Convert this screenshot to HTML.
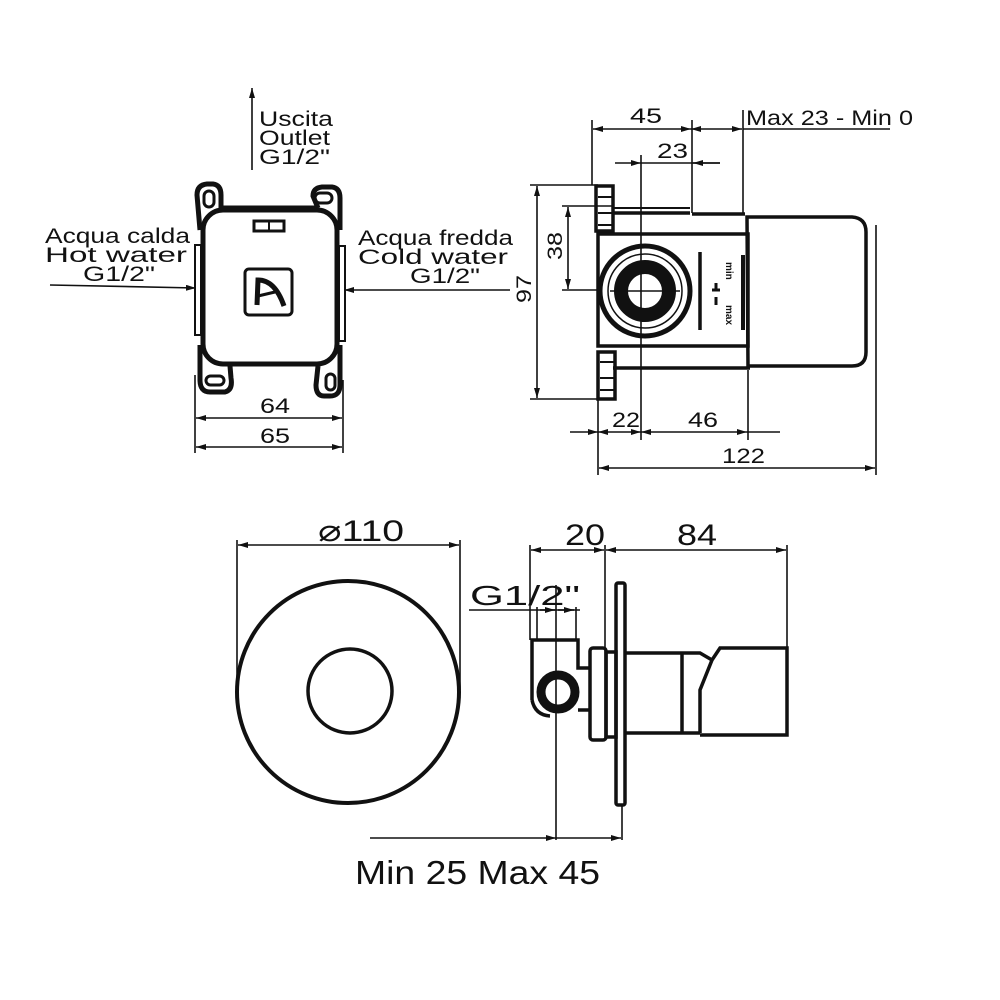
<!DOCTYPE html>
<html><head><style>html,body{margin:0;padding:0;background:#fff}svg{display:block}text{font-family:"Liberation Sans",sans-serif;fill:#111}</style></head>
<body>
<svg width="1000" height="1000" viewBox="0 0 1000 1000" xmlns="http://www.w3.org/2000/svg">
<defs>
<marker id="a" viewBox="0 0 10 6" refX="10" refY="3" markerWidth="10" markerHeight="6" orient="auto-start-reverse" markerUnits="userSpaceOnUse"><path d="M0,0L10,3L0,6z" fill="#111"/></marker>
</defs>
<g stroke="#111" fill="none" stroke-width="1.6">
<line x1="252" y1="170" x2="252" y2="88" marker-end="url(#a)"/>
<line x1="50" y1="285" x2="196" y2="288" marker-end="url(#a)"/>
<line x1="510" y1="290" x2="344" y2="290" marker-end="url(#a)"/>
<g stroke-width="5">
<rect x="203" y="210" width="134" height="154" rx="20"/>
<path d="M200,230 L197,195 Q197,185 207,184 L213,184 Q221,185 221,195 L221,208" />
<path d="M318,208 L313,196 Q313,188 322,187 L332,187 Q340,188 340,198 L340,230"/>
<path d="M200,345 L200,380 Q200,392 210,392 L225,392 Q233,390 231,378 L230,366"/>
<path d="M340,345 L340,385 Q340,396 330,396 L324,396 Q316,396 316,385 L318,366"/>
</g>
<rect x="204" y="191" width="10" height="16" rx="5" stroke-width="3"/>
<rect x="315" y="193" width="17" height="10" rx="5" stroke-width="3"/>
<rect x="206" y="376" width="18" height="9" rx="4.5" stroke-width="3"/>
<rect x="326" y="374" width="9" height="16" rx="4.5" stroke-width="3"/>
<line x1="222" y1="207" x2="316" y2="207" stroke-width="3"/>
<rect x="254" y="221" width="30" height="10" stroke-width="3"/>
<line x1="269" y1="221" x2="269" y2="231" stroke-width="2"/>
<rect x="195" y="245" width="6" height="90" stroke-width="2"/>
<rect x="339" y="246" width="6" height="95" stroke-width="2"/>
<rect x="245" y="269" width="47" height="46" rx="4" stroke-width="3"/>
<path d="M257,305 L258,280 Q275,280 284,306" stroke-width="5"/>
<line x1="258" y1="296" x2="275" y2="292" stroke-width="3"/>
<line x1="195" y1="375" x2="195" y2="453"/><line x1="343" y1="380" x2="343" y2="453"/>
<line x1="196" y1="418" x2="342" y2="418" marker-start="url(#a)" marker-end="url(#a)"/>
<line x1="196" y1="447" x2="342" y2="447" marker-start="url(#a)" marker-end="url(#a)"/>
<line x1="592" y1="120" x2="592" y2="185"/><line x1="692" y1="120" x2="692" y2="213"/><line x1="743" y1="110" x2="743" y2="215"/>
<line x1="641" y1="155" x2="641" y2="440"/>
<line x1="593" y1="129" x2="691" y2="129" marker-start="url(#a)" marker-end="url(#a)"/>
<line x1="691" y1="129" x2="742" y2="129" marker-start="url(#a)" marker-end="url(#a)"/>
<line x1="743" y1="129" x2="890" y2="129"/>
<line x1="615" y1="163" x2="641" y2="163" marker-end="url(#a)"/>
<line x1="641" y1="163" x2="720" y2="163"/>
<line x1="720" y1="163" x2="693" y2="163" marker-end="url(#a)"/>
<line x1="530" y1="185" x2="598" y2="185"/><line x1="530" y1="399" x2="598" y2="399"/>
<line x1="537" y1="186" x2="537" y2="398" marker-start="url(#a)" marker-end="url(#a)"/>
<line x1="562" y1="206" x2="612" y2="206"/><line x1="562" y1="290" x2="600" y2="290"/>
<line x1="568" y1="207" x2="568" y2="289" marker-start="url(#a)" marker-end="url(#a)"/>
<line x1="598" y1="400" x2="598" y2="475"/><line x1="748" y1="370" x2="748" y2="440"/><line x1="876" y1="225" x2="876" y2="475"/>
<line x1="570" y1="432" x2="598" y2="432" marker-end="url(#a)"/>
<line x1="598" y1="432" x2="641" y2="432" marker-start="url(#a)" marker-end="url(#a)"/>
<line x1="641" y1="432" x2="747" y2="432" marker-start="url(#a)" marker-end="url(#a)"/>
<line x1="747" y1="432" x2="780" y2="432"/>
<line x1="599" y1="468" x2="875" y2="468" marker-start="url(#a)" marker-end="url(#a)"/>
<g stroke-width="3.5">
<rect x="596" y="186" width="17" height="45"/>
<rect x="598" y="352" width="17" height="47"/>
<rect x="598" y="234" width="150" height="112"/>
<path d="M613,213 L690,213 M692,214 L745,214"/>
<path d="M613,368 L750,368"/>
<path d="M747,217 L852,217 Q866,218 866,232 L866,352 Q866,366 852,366 L748,366 Z"/>
</g>
<line x1="613" y1="208" x2="690" y2="208" stroke-width="2"/>
<path d="M598,197 H612 M598,213 H612 M598,225 H612 M600,362 H614 M600,378 H614 M600,390 H614" stroke-width="2"/>
<circle cx="645" cy="291" r="45" stroke-width="5"/>
<circle cx="645" cy="291" r="37" stroke-width="1.5"/>
<circle cx="645" cy="291" r="24" stroke-width="14"/>
<line x1="610" y1="291" x2="680" y2="291" stroke-width="1.5"/>
<line x1="700" y1="252" x2="700" y2="330" stroke-width="3.5"/>
<line x1="743" y1="255" x2="743" y2="330" stroke-width="4"/>
<path d="M716,283 L716,290 M712,290 L720,290 M716,297 L716,305" stroke-width="3"/>
<circle cx="348" cy="692" r="111" stroke-width="4"/>
<circle cx="350" cy="691" r="42" stroke-width="3.5"/>
<line x1="237" y1="540" x2="237" y2="690"/><line x1="460" y1="540" x2="460" y2="690"/>
<line x1="238" y1="545" x2="459" y2="545" marker-start="url(#a)" marker-end="url(#a)"/>
<line x1="530" y1="545" x2="530" y2="640"/><line x1="605" y1="545" x2="605" y2="650"/><line x1="787" y1="545" x2="787" y2="650"/>
<line x1="531" y1="550" x2="604" y2="550" marker-start="url(#a)" marker-end="url(#a)"/>
<line x1="606" y1="550" x2="786" y2="550" marker-start="url(#a)" marker-end="url(#a)"/>
<line x1="469" y1="610" x2="580" y2="610"/>
<line x1="537" y1="607" x2="537" y2="640"/><line x1="556" y1="585" x2="556" y2="840"/><line x1="576" y1="607" x2="576" y2="640"/>
<line x1="540" y1="610" x2="555" y2="610" marker-end="url(#a)"/><line x1="558" y1="610" x2="574" y2="610" marker-end="url(#a)"/>
<g stroke-width="3.5">
<rect x="616" y="583" width="9" height="222" rx="2"/>
<path d="M532,700 L532,640 L578,640 L578,668 L590,668"/>
<path d="M532,700 Q535,715 550,716"/>
<path d="M578,710 L590,710"/>
<rect x="590" y="648" width="16" height="92" rx="3"/>
<rect x="606" y="652" width="10" height="85"/>
<path d="M625,653 L682,653 M625,733 L700,733 M682,653 L682,733 M682,653 L700,653 L712,660 L700,690 L700,733 M712,660 L720,648 L787,648 L787,735 L700,735"/>
</g>
<circle cx="558" cy="692" r="17" stroke-width="9"/>
<line x1="622" y1="806" x2="622" y2="840"/>
<line x1="370" y1="838" x2="556" y2="838" marker-end="url(#a)"/>
<line x1="556" y1="838" x2="621" y2="838" marker-end="url(#a)"/>
</g>
<g font-size="21" lengthAdjust="spacingAndGlyphs">
<text x="259" y="126" textLength="74" lengthAdjust="spacingAndGlyphs">Uscita</text><text x="259" y="145" textLength="71" lengthAdjust="spacingAndGlyphs">Outlet</text><text x="259" y="164" textLength="71" lengthAdjust="spacingAndGlyphs">G1/2"</text>
<text x="45" y="243" textLength="145" lengthAdjust="spacingAndGlyphs">Acqua calda</text><text x="45" y="262" textLength="142" lengthAdjust="spacingAndGlyphs">Hot water</text><text x="83" y="281" textLength="72" lengthAdjust="spacingAndGlyphs">G1/2"</text>
<text x="358" y="245" textLength="155" lengthAdjust="spacingAndGlyphs">Acqua fredda</text><text x="358" y="264" textLength="150" lengthAdjust="spacingAndGlyphs">Cold water</text><text x="410" y="283" textLength="70" lengthAdjust="spacingAndGlyphs">G1/2"</text>
<text x="260" y="413" textLength="30" lengthAdjust="spacingAndGlyphs">64</text><text x="260" y="443" textLength="30" lengthAdjust="spacingAndGlyphs">65</text>
<text x="630" y="123" textLength="32" lengthAdjust="spacingAndGlyphs">45</text><text x="657" y="158" textLength="31" lengthAdjust="spacingAndGlyphs">23</text><text x="746" y="125" textLength="167" lengthAdjust="spacingAndGlyphs">Max 23 - Min 0</text>
<text x="612" y="427" textLength="28" lengthAdjust="spacingAndGlyphs">22</text><text x="688" y="427" textLength="30" lengthAdjust="spacingAndGlyphs">46</text><text x="722" y="463" textLength="43" lengthAdjust="spacingAndGlyphs">122</text>
<text transform="translate(531,303) rotate(-90)" textLength="28" lengthAdjust="spacingAndGlyphs">97</text>
<text transform="translate(562,260) rotate(-90)" textLength="28" lengthAdjust="spacingAndGlyphs">38</text>
</g>
<text transform="translate(726,262) rotate(90)" font-size="10" font-weight="bold">min</text>
<text transform="translate(726,305) rotate(90)" font-size="10" font-weight="bold">max</text>
<text x="318" y="541" font-size="30" textLength="86" lengthAdjust="spacingAndGlyphs">⌀110</text>
<text x="565" y="545" font-size="30" textLength="40" lengthAdjust="spacingAndGlyphs">20</text><text x="677" y="545" font-size="30" textLength="40" lengthAdjust="spacingAndGlyphs">84</text>
<text x="470" y="605" font-size="28" textLength="110" lengthAdjust="spacingAndGlyphs">G1/2"</text>
<text x="355" y="884" font-size="33" textLength="245" lengthAdjust="spacingAndGlyphs">Min 25 Max 45</text>
</svg>
</body></html>
